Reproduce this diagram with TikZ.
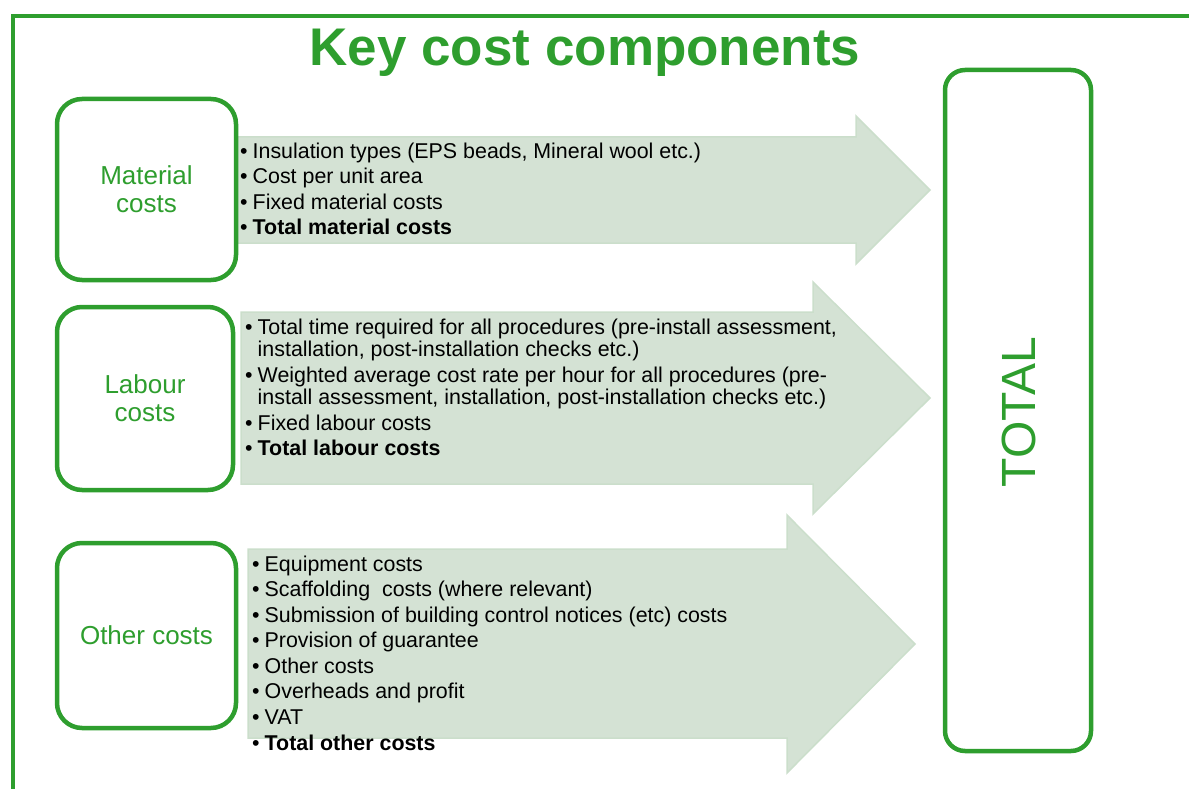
\documentclass[tikz,border=0pt]{standalone}
\usepackage{fontspec}
\setmainfont{Liberation Sans}
\definecolor{keygreen}{RGB}{46,158,46}
\definecolor{arrowfill}{RGB}{212,226,212}
\definecolor{arrowedge}{RGB}{203,222,203}
\newcommand\costbullet{\makebox[12.5pt][l]{•}}
\newcommand\costhang{\hspace*{12.5pt}}
\begin{document}
\begin{tikzpicture}[x=1pt,y=-1pt,
  costbox/.style={draw=keygreen, line width=4.5pt, rounded corners=25pt,
    fill=white, minimum width=179pt, minimum height=181pt, inner sep=0pt,
    align=center, text=keygreen, font=\fontsize{26}{28}\selectfont},
  totalbox/.style={draw=keygreen, line width=4.5pt, rounded corners=20pt,
    fill=white, minimum width=146pt, minimum height=681pt, inner sep=0pt},
  flow/.style={fill=arrowfill, draw=arrowedge, line width=1.5pt, line join=miter},
  item/.style={anchor=base west, inner sep=0pt, font=\fontsize{21.4}{25}\selectfont},
]
\useasboundingbox (0,0) rectangle (1189,789);

% outer frame (top and left edges)
\draw[keygreen, line width=4pt] (13,789) -- (13,16) -- (1189,16);

% block arrows
\path[flow] (237,137) -- (856,137) -- (856,116) -- (930,190) -- (856,264)
  -- (856,243) -- (237,243) -- cycle;
\path[flow] (241,312) -- (813,312) -- (813,282) -- (930,398) -- (813,514)
  -- (813,484) -- (241,484) -- cycle;
\path[flow] (248,549) -- (787,549) -- (787,515) -- (915,644) -- (787,773)
  -- (787,738) -- (248,738) -- cycle;

% cost category boxes
\node[costbox] (material) at (146.5,189.5) {Material\\costs};
\node[costbox, minimum width=176pt, minimum height=183pt] (labour) at (145,398.5) {Labour\\costs};
\node[costbox, minimum height=185pt] (other) at (146.5,635.5) {Other costs};

% total box
\node[totalbox] (totalframe) at (1018,410.5) {};
\node[rotate=90, text=keygreen, font=\fontsize{48}{48}\selectfont, inner sep=0pt]
  (total) at (1018.5,412) {TOTAL};

% title
\node[anchor=base, text=keygreen, inner sep=0pt,
  font=\fontsize{53}{53}\selectfont\bfseries] (title) at (585,66) {Key cost components};

% material items
\node[item] (m1) at (240,158) {\costbullet Insulation types (EPS beads, Mineral wool etc.)};
\node[item] (m2) at (240,183.5) {\costbullet Cost per unit area};
\node[item] (m3) at (240,209) {\costbullet Fixed material costs};
\node[item] (m4) at (240,234.5) {\costbullet\textbf{Total material costs}};

% labour items
\node[item] (l1) at (245,334) {\costbullet Total time required for all procedures (pre-install assessment,};
\node[item] (l2) at (245,356.5) {\costhang installation, post-installation checks etc.)};
\node[item] (l3) at (245,382) {\costbullet Weighted average cost rate per hour for all procedures (pre-};
\node[item] (l4) at (245,404.5) {\costhang install assessment, installation, post-installation checks etc.)};
\node[item] (l5) at (245,430) {\costbullet Fixed labour costs};
\node[item] (l6) at (245,455.5) {\costbullet\textbf{Total labour costs}};

% other items
\node[item] (o1) at (252,571) {\costbullet Equipment costs};
\node[item] (o2) at (252,596.6) {\costbullet Scaffolding\ \ costs (where relevant)};
\node[item] (o3) at (252,622.1) {\costbullet Submission of building control notices (etc) costs};
\node[item] (o4) at (252,647.7) {\costbullet Provision of guarantee};
\node[item] (o5) at (252,673.3) {\costbullet Other costs};
\node[item] (o6) at (252,698.9) {\costbullet Overheads and profit};
\node[item] (o7) at (252,724.4) {\costbullet VAT};
\node[item] (o8) at (252,750) {\costbullet\textbf{Total other costs}};
\end{tikzpicture}
\end{document}
